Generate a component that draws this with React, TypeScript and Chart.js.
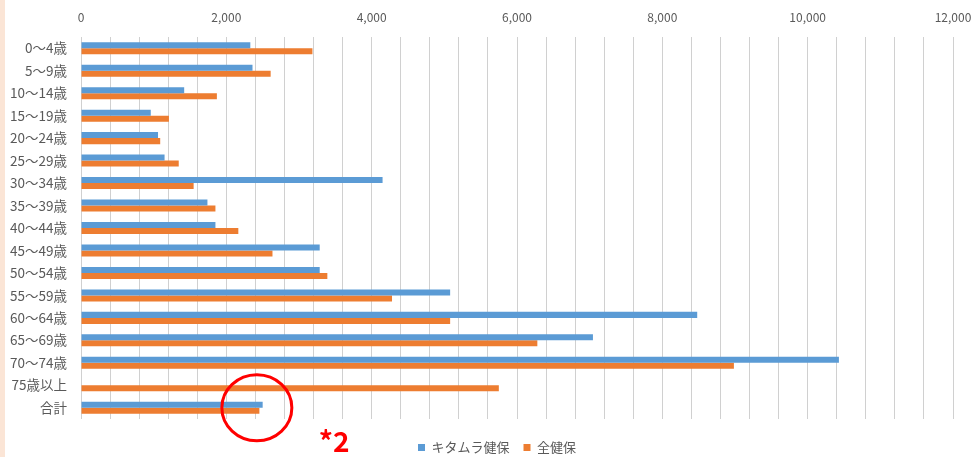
import React, { useEffect, useRef } from 'react';
import { Chart, registerables } from 'chart.js';

Chart.register(...registerables);

// ---- data ----
const categories = [
  '0～4歳', '5～9歳', '10～14歳', '15～19歳', '20～24歳', '25～29歳',
  '30～34歳', '35～39歳', '40～44歳', '45～49歳', '50～54歳', '55～59歳',
  '60～64歳', '65～69歳', '70～74歳', '75歳以上', '合計',
];
const kitamuraValues = [
  2330, 2360, 1420, 960, 1060, 1150, 4150, 1740, 1850, 3285, 3285, 5080,
  8480, 7045, 10430, null, 2500,
];
const zenkenpoValues = [
  3185, 2610, 1870, 1210, 1090, 1345, 1550, 1850, 2165, 2635, 3390, 4280,
  5080, 6280, 8985, 5750, 2455,
];
const seriesNames = ['キタムラ健保', '全健保'];
const xMin = 0;
const xMax = 12000;
const xLabelStep = 2000;
const xGridStep = 400;
const annotationValue = 2420;
const annotationCategory = '合計';
const annotationText = '*2';

const FONT = '"Noto Sans CJK JP", "Noto Sans", sans-serif';
const TEXT = '#595959';

const fmt = (v: number) => String(v).replace(/\B(?=(\d{3})+(?!\d))/g, ',');

const backgroundPlugin = {
  id: 'bg',
  beforeDraw(chart: any) {
    const { ctx, width, height } = chart;
    ctx.save();
    ctx.fillStyle = '#ffffff';
    ctx.fillRect(0, 0, width, height);
    ctx.fillStyle = '#FBE5D6';
    ctx.fillRect(0, 0, 5, height);
    ctx.restore();
  },
};

// nudge the legend box (offsets as in the reference layout)
const legendOffsetPlugin = {
  id: 'legendOffset',
  afterLayout(chart: any) {
    const lg = chart.legend;
    if (!lg) return;
    const dx = 18;
    const dy = 8;
    lg.left += dx; lg.right += dx;
    lg.top += dy; lg.bottom += dy;
  },
};

const annotationPlugin = {
  id: 'redCircle',
  afterDraw(chart: any) {
    const { ctx } = chart;
    const x = chart.scales.x;
    const y = chart.scales.y;
    const cx = x.getPixelForValue(annotationValue);
    const cy = y.getPixelForValue(categories.indexOf(annotationCategory));
    ctx.save();
    ctx.strokeStyle = '#FF0000';
    ctx.lineWidth = 3;
    ctx.beginPath();
    ctx.ellipse(cx, cy, 35, 33, 0, 0, Math.PI * 2);
    ctx.stroke();
    ctx.fillStyle = '#FF0000';
    ctx.font = `bold 28px ${FONT}`;
    ctx.textBaseline = 'alphabetic';
    ctx.textAlign = 'left';
    ctx.fillText(annotationText, cx + 62, cy + 44);
    ctx.restore();
  },
};

export default function App() {
  const ref = useRef<HTMLCanvasElement | null>(null);

  useEffect(() => {
    document.body.style.margin = '0';
    const canvas = ref.current;
    if (!canvas) return;
    const chart = new Chart(canvas, {
      type: 'bar',
      data: {
        labels: categories,
        datasets: [
          {
            label: seriesNames[0],
            data: kitamuraValues as any,
            backgroundColor: '#5B9BD5',
            borderWidth: 0,
            categoryPercentage: 0.535,
            barPercentage: 1,
          },
          {
            label: seriesNames[1],
            data: zenkenpoValues,
            backgroundColor: '#ED7D31',
            borderWidth: 0,
            categoryPercentage: 0.535,
            barPercentage: 1,
          },
        ],
      },
      options: {
        indexAxis: 'y',
        responsive: false,
        animation: false,
        devicePixelRatio: 1,
        layout: { padding: { left: 5, right: 20, top: 0, bottom: 1 } },
        font: { family: FONT },
        scales: {
          x: {
            position: 'top',
            min: xMin,
            max: xMax,
            afterFit: (s: any) => { s.height = 37; s.paddingLeft = 0; s.paddingRight = 0; },
            grid: { color: '#D0D0D0', lineWidth: 1, drawTicks: false },
            border: { display: false },
            ticks: {
              stepSize: xGridStep,
              autoSkip: false,
              maxRotation: 0,
              maxTicksLimit: 1000,
              padding: 12,
              color: TEXT,
              font: { family: FONT, size: 12 },
              callback: (v: any) => (Number(v) % xLabelStep === 0 ? fmt(Number(v)) : ''),
            },
          },
          y: {
            afterFit: (s: any) => { s.width = 76; },
            grid: { display: false, drawTicks: false },
            border: { display: false },
            ticks: {
              padding: 14,
              color: TEXT,
              font: { family: FONT, size: 13.5 },
            },
          },
        },
        plugins: {
          legend: {
            position: 'bottom',
            labels: {
              boxWidth: 7,
              boxHeight: 7,
              padding: 14,
              color: TEXT,
              font: { family: FONT, size: 13 },
            },
          },
          tooltip: { enabled: false },
        },
      },
      plugins: [backgroundPlugin, legendOffsetPlugin, annotationPlugin],
    } as any);
    return () => chart.destroy();
  }, []);

  return (
    <div style={{ position: 'relative', width: 973, height: 457, overflow: 'hidden', background: '#fff' }}>
      <canvas ref={ref} width={973} height={457} style={{ display: 'block', width: 973, height: 457 }} />
    </div>
  );
}
